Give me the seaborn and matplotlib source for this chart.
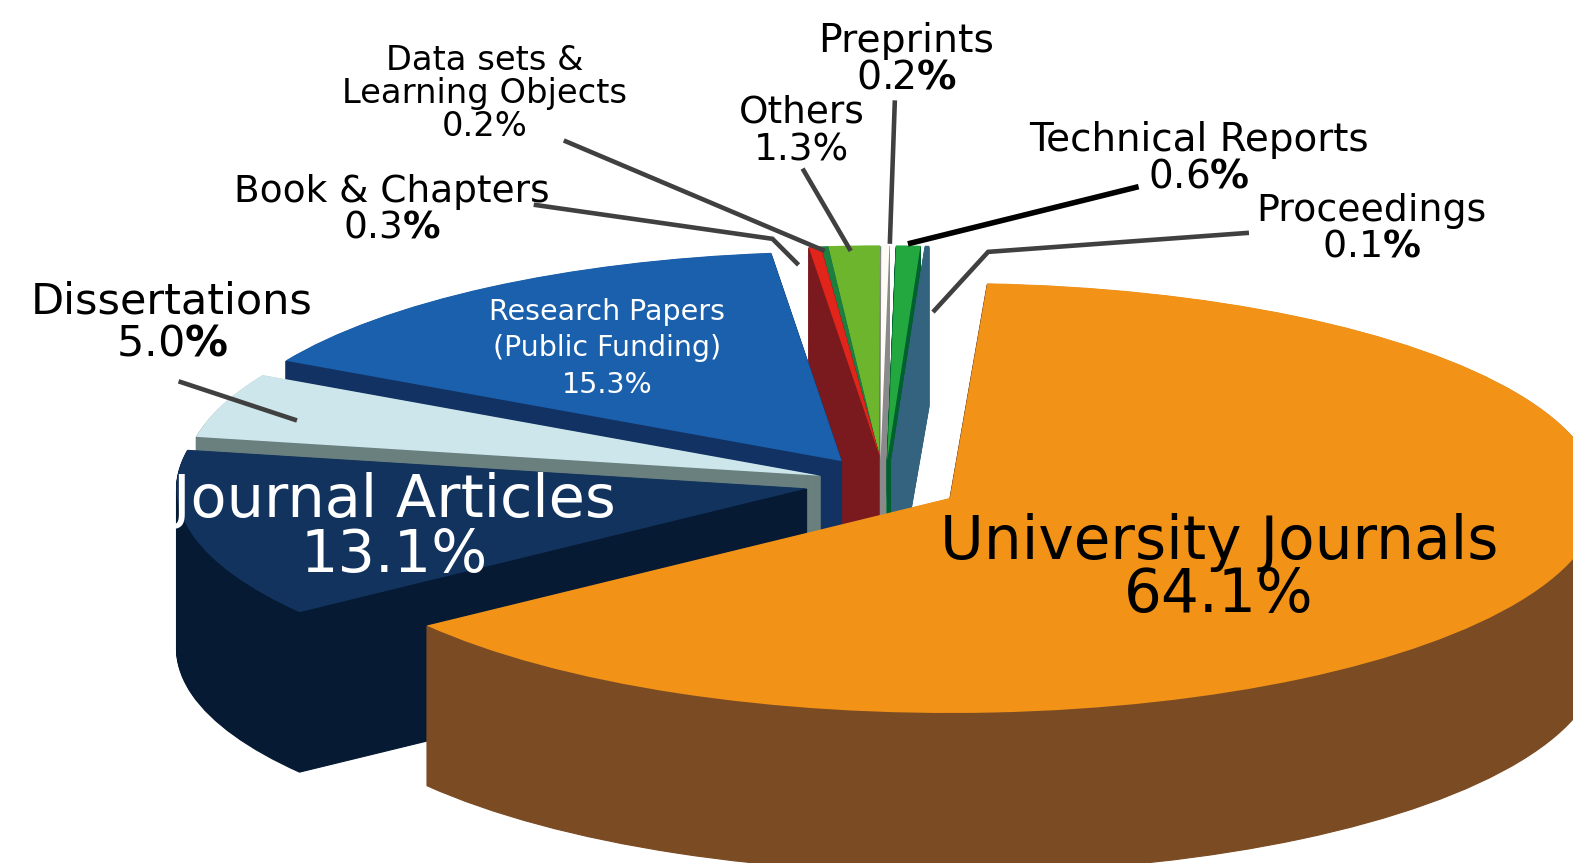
import matplotlib
matplotlib.use("Agg")
import matplotlib.pyplot as plt
import seaborn as sns

# clockwise from the top, as in the picture
categories = ["University Journals", "Journal Articles", "Dissertations",
              "Research Papers (Public Funding)", "Book & Chapters",
              "Data sets & Learning Objects", "Others", "Preprints",
              "Technical Reports", "Proceedings"]
shares = [64.1, 13.1, 5.0, 15.3, 0.3, 0.2, 1.3, 0.2, 0.6, 0.1]

top_colors = ["#F29318", "#13335F", "#CCE6EC", "#1A60AC", "#E1251B",
              "#1C7E3F", "#6DB52D", "#FFFCF5", "#23A83F", "#34637F"]
wall_colors = ["#7B4C24", "#061B33", "#69807F", "#123263", "#7A1A1F",
               "#1C7E3F", "#1C7E3F", "#8A8A8A", "#00602F", "#34637F"]

W, H = 1573, 863
SX, SY = 650, 215       # pixels per pie radius, the squashed ellipse
CX, CY = 878, 483       # pie centre in pixels
DEPTH = 160

explode = [0.117, 0.112, 0.10, 0.10, 0.105, 0.105, 0.105, 0.105, 0.105, 0.105]
radius = [1, 0.97, 0.978, 0.975, 1, 1, 1, 1, 1, 1]
nudge_x = [5, 0, 4, 0, 10, 8, 4, 2, 7, 10]
nudge_y = [3, 0, 0, -4, 0, 0, 0, 0, 0, 0]
depth_scale = [1, 1, 1, 1, 1.2, 1, 1, 1, 1, 1]
# painter's order, back to front
order = [6, 5, 4, 7, 8, 9, 3, 2, 1, 0]

sns.set_theme(style="white")
plt.rcParams["font.family"] = ["DejaVu Sans"]
plt.rcParams["mathtext.fontset"] = "custom"
plt.rcParams["mathtext.rm"] = "DejaVu Sans"
plt.rcParams["mathtext.bf"] = "DejaVu Sans:bold"

fig = plt.figure(figsize=(W / 100, H / 100), dpi=100)
ax = fig.add_axes([0, 0, 1, 1])


def draw_layer(colors, drop_px, z_base, edge=0):
    wedges, texts = ax.pie(shares, explode=explode, colors=colors, startangle=86.7,
                           counterclock=False, wedgeprops={"linewidth": 0})
    for t in texts:
        t.remove()
    for i, w in enumerate(wedges):
        cx, cy = w.center
        w.set_center((cx + nudge_x[i] / SX, cy - (drop_px * depth_scale[i] + nudge_y[i]) / SY))
        w.set_radius(radius[i])
        w.set_zorder(order.index(i) * 2 + z_base)
        if edge:
            # sharp tips fade out in the stack without a thin outline
            w.set_edgecolor(w.get_facecolor())
            w.set_linewidth(edge)
    return wedges


for drop in range(DEPTH, 0, -1):
    draw_layer(wall_colors, drop, 1, edge=0.8)
top_wedges = draw_layer(top_colors, 0, 2)

ax.set_aspect("auto")
ax.set_xlim(-CX / SX, (W - CX) / SX)
ax.set_ylim(-(H - CY) / SY, CY / SY)
ax.axis("off")


def fx(x):
    return x / 1568


def fy(y):
    return 1 - y / 860


def label(x, y, s, size, color="black", spacing=1.0, **kw):
    return fig.text(fx(x), fy(y), s, fontsize=size, color=color, ha="center", va="center",
                    multialignment="center", linespacing=spacing, zorder=40, **kw)


def leader(xs, ys, color="#404040", lw=3.3):
    fig.add_artist(plt.Line2D([fx(v) for v in xs], [fy(v) for v in ys], color=color, lw=lw,
                              solid_joinstyle="miter", solid_capstyle="butt", zorder=30))


leader([178, 296], [380, 419])
leader([532, 770, 796], [204, 238, 264])
leader([562, 822], [140, 250])
leader([800, 848], [168, 250])
leader([892, 887], [100, 243])
leader([1135, 905], [186, 243], color="black", lw=4)
leader([1245, 985, 930], [232, 251, 311])

BOLD = r"$\mathbf{\%}$"
label(1215, 567, "University Journals\n64.1%", 43, spacing=0.85)
journal = ax.text(0, 0, "Journal Articles\n13.1%", fontsize=42.5, color="white", ha="center",
                  va="center", multialignment="center", linespacing=0.95, zorder=40,
                  transform=fig.transFigure)
journal.set_position((fx(393), fy(526)))
journal.set_clip_path(top_wedges[1])
label(605, 347, "Research Papers\n(Public Funding)\n15.3%", 20.5, color="white", spacing=1.38)
label(171, 321, "Dissertations\n5.0" + BOLD, 31)
label(391, 209, "Book & Chapters\n0.3" + BOLD, 27)
label(483, 93, "Data sets &\nLearning Objects\n0.2%", 24.3)
label(799, 131, "Others\n1.3%", 27, spacing=1.05)
label(903, 59, "Preprints\n0.2" + BOLD, 28.4, spacing=0.95)
label(1195, 158, "Technical Reports\n0.6" + BOLD, 28, spacing=0.95)
label(1367, 228, "Proceedings\n0.1" + BOLD, 27.3, spacing=0.95)

fig.savefig("out.png", dpi=100)
plt.close(fig)
